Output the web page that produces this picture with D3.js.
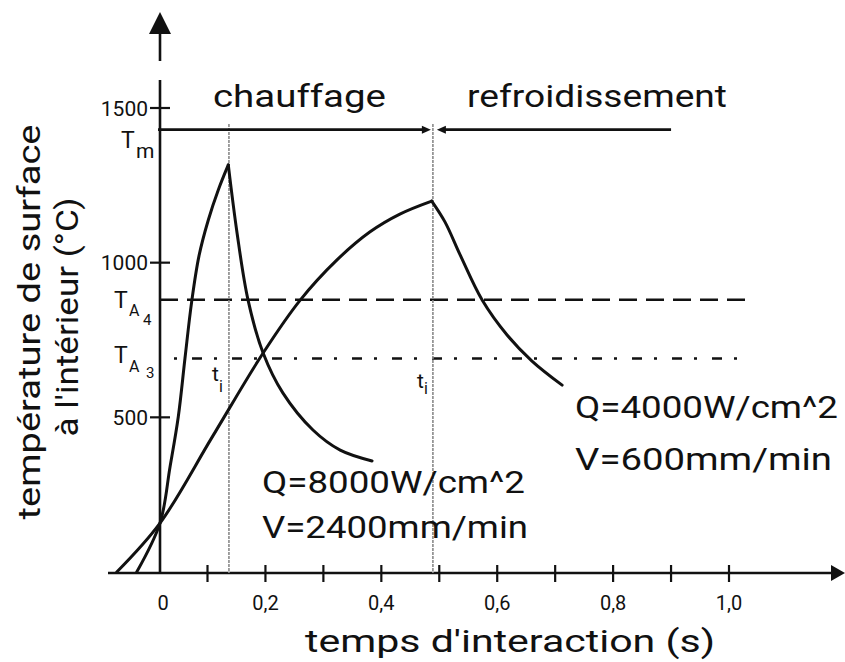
<!DOCTYPE html>
<html>
<head>
<meta charset="utf-8">
<script src="https://cdn.jsdelivr.net/npm/d3@7"></script>
<style>
  html, body { margin: 0; padding: 0; background: #fff; }
  svg { display: block; }
  text { font-family: Roboto, "Liberation Sans", sans-serif; fill: #111; }
</style>
</head>
<body>
<svg id="chart" width="845" height="662"></svg>
<script>
// Temps d'interaction (s) / température (°C)
const xTickValues = [0.1, 0.2, 0.3, 0.4, 0.5, 0.6, 0.7, 0.8, 0.9, 1.0];
const xLabelValues = [0, 0.2, 0.4, 0.6, 0.8, 1.0];
const xLabelTexts = ["0", "0,2", "0,4", "0,6", "0,8", "1,0"];
const yTickValues = [500, 1000, 1500];
const yLabelTexts = ["500", "1000", "1500"];

// Q=8000W/cm^2, V=2400mm/min : chauffage puis refroidissement
const heat8000 = [[-0.049, 0], [0, 158], [0.021, 339], [0.0385, 502], [0.0526, 691], [0.0667, 874],
                  [0.0821, 1022], [0.1014, 1138], [0.1186, 1235], [0.1359, 1316]];
const cool8000 = [[0.1359, 1316], [0.151, 1096], [0.170, 879], [0.196, 708], [0.230, 579],
                  [0.282, 459], [0.329, 394], [0.384, 359]];
// Q=4000W/cm^2, V=600mm/min
const heat4000 = [[-0.091, 0], [0, 158], [0.108, 436], [0.196, 708], [0.260, 879],
                  [0.3235, 1009], [0.380, 1099], [0.432, 1157], [0.487, 1199]];
const cool4000 = [[0.487, 1199], [0.510, 1131], [0.536, 1025], [0.574, 879], [0.617, 766],
                  [0.660, 682], [0.712, 604]];

// Temperatures caractéristiques et instants de fin de chauffage
const tempTm = 1430, tempA4 = 880, tempA3 = 690;
const tI = [0.137, 0.489];
const tmLineEnd = 0.9;
const refLineEnd = 1.036;

const svg = d3.select("#chart");
const ink = "#111";

// axe des temps (échelle à plusieurs segments comme sur l'abaque d'origine)
const x = d3.scaleLinear().domain([0, 0.1, 1.0]).range([160, 207.5, 729]);
const y = d3.scaleLinear().domain([0, 1500]).range([572, 108]);
const x0 = x(0), yAxis = 573;

// ---- axes ----
// axe horizontal
svg.append("line").attr("x1", 108).attr("x2", 836).attr("y1", yAxis).attr("y2", yAxis)
  .attr("stroke", ink).attr("stroke-width", 2.6);
svg.append("path").attr("d", `M845,${yAxis} L831,${yAxis - 8} L831,${yAxis + 8} Z`).attr("fill", ink);
// graduations
svg.selectAll("line.xtick").data(xTickValues).join("line").attr("class", "xtick")
  .attr("x1", d => x(d)).attr("x2", d => x(d)).attr("y1", yAxis - 8).attr("y2", yAxis + 9)
  .attr("stroke", ink).attr("stroke-width", 2.2);
svg.selectAll("text.xlab").data(xLabelValues).join("text").attr("class", "xlab")
  .attr("x", d => x(d) + (d === 0 ? 3 : 0)).attr("y", 610).attr("text-anchor", "middle")
  .attr("font-size", 20).text((d, i) => xLabelTexts[i]);

// axe vertical (interrompu sous la flèche)
svg.append("line").attr("x1", x0).attr("x2", x0).attr("y1", yAxis).attr("y2", 80)
  .attr("stroke", ink).attr("stroke-width", 2.6);
svg.append("line").attr("x1", x0).attr("x2", x0).attr("y1", 61).attr("y2", 30)
  .attr("stroke", ink).attr("stroke-width", 2.6);
svg.append("path").attr("d", `M${x0},12 L${x0 - 11},34 L${x0 + 11},34 Z`).attr("fill", ink);
svg.selectAll("line.ytick").data(yTickValues).join("line").attr("class", "ytick")
  .attr("x1", x0 - 10).attr("x2", x0 + 10).attr("y1", d => y(d)).attr("y2", d => y(d))
  .attr("stroke", ink).attr("stroke-width", 2.2);
svg.selectAll("text.ylab").data(yTickValues).join("text").attr("class", "ylab")
  .attr("x", 148).attr("y", d => y(d)).attr("dy", "0.36em").attr("text-anchor", "end")
  .attr("font-size", 21).text((d, i) => yLabelTexts[i]);

// ---- lignes de référence ----
svg.append("line").attr("x1", x0).attr("x2", x(refLineEnd)).attr("y1", y(tempA4)).attr("y2", y(tempA4))
  .attr("stroke", ink).attr("stroke-width", 2.4).attr("stroke-dasharray", "18,9");
svg.append("line").attr("x1", x0 + 14).attr("x2", x(refLineEnd)).attr("y1", y(tempA3)).attr("y2", y(tempA3))
  .attr("stroke", ink).attr("stroke-width", 2.4).attr("stroke-dasharray", "3,15,10,12");

// instants t_i
svg.selectAll("line.ti").data(tI).join("line").attr("class", "ti")
  .attr("x1", d => x(d)).attr("x2", d => x(d)).attr("y1", 124).attr("y2", yAxis)
  .attr("stroke", "#8a8a8a").attr("stroke-width", 1.6).attr("stroke-dasharray", "3,1");

// ligne T_m avec flèches chauffage / refroidissement
const yTm = y(tempTm);
const tip = x(tI[1]);
svg.append("line").attr("x1", x0 - 2).attr("x2", tip - 8).attr("y1", yTm).attr("y2", yTm)
  .attr("stroke", ink).attr("stroke-width", 2.6);
svg.append("path").attr("d", `M${tip - 2},${yTm} L${tip - 11},${yTm - 4} L${tip - 11},${yTm + 4} Z`).attr("fill", ink);
svg.append("line").attr("x1", tip + 10).attr("x2", x(tmLineEnd)).attr("y1", yTm).attr("y2", yTm)
  .attr("stroke", ink).attr("stroke-width", 2.6);
svg.append("path").attr("d", `M${tip + 4},${yTm} L${tip + 13},${yTm - 4} L${tip + 13},${yTm + 4} Z`).attr("fill", ink);

// ---- courbes ----
const line = d3.line().x(d => x(d[0])).y(d => y(d[1])).curve(d3.curveCatmullRom.alpha(0.5));
[heat8000, cool8000, heat4000, cool4000].forEach(s => {
  svg.append("path").attr("d", line(s)).attr("fill", "none").attr("stroke", ink)
    .attr("stroke-width", 3).attr("stroke-linejoin", "round").attr("stroke-linecap", "round");
});

// ---- textes ----
function label(tx, ty, str, size, len, anchor) {
  const t = svg.append("text").attr("x", tx).attr("y", ty).attr("font-size", size)
    .attr("text-anchor", anchor || "start").text(str);
  if (len) t.attr("textLength", len).attr("lengthAdjust", "spacingAndGlyphs");
  return t;
}
label(213, 107, "chauffage", 32, 173);
label(467, 107, "refroidissement", 32, 260);

label(262, 493, "Q=8000W/cm^2", 32, 263);
label(262, 538, "V=2400mm/min", 32, 266);
label(575, 418, "Q=4000W/cm^2", 32, 263);
label(575, 470, "V=600mm/min", 32, 257);

// températures repères
label(121, 148, "T", 23);
label(136, 158, "m", 21);
label(114, 308, "T", 23);
label(129, 316, "A", 16);
label(143, 325, "4", 15);
label(114, 363, "T", 23);
label(129, 372, "A", 16);
label(146, 378, "3", 15);

// t_i
tI.forEach((d, i) => {
  const px = x(d);
  label(px - 17 + (i ? 1 : 0), i ? 388 : 381, "t", 21);
  label(px - 10 + (i ? 1 : 0), i ? 394 : 392, "i", 16);
});

// titres des axes
label(305, 652, "temps d'interaction (s)", 32, 410);
svg.append("text").attr("transform", "translate(40,322) rotate(-90)").attr("text-anchor", "middle")
  .attr("font-size", 32).attr("textLength", 395).attr("lengthAdjust", "spacingAndGlyphs")
  .text("température de surface");
svg.append("text").attr("transform", "translate(78,317) rotate(-90)").attr("text-anchor", "middle")
  .attr("font-size", 32).attr("textLength", 239).attr("lengthAdjust", "spacingAndGlyphs")
  .text("à l'intérieur (°C)");
</script>
</body>
</html>
